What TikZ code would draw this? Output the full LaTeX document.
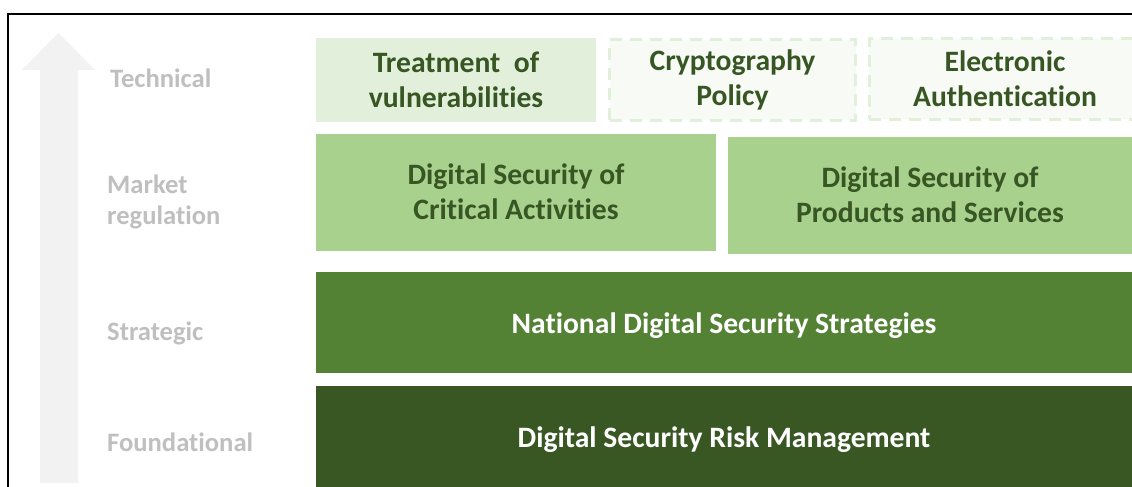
\documentclass[tikz,border=0pt]{standalone}
\usepackage{fontspec}
\setmainfont[Ligatures=NoCommon, RawFeature={-liga;-clig;-dlig;-calt}]{Carlito}
\definecolor{txtdark}{HTML}{375623}
\definecolor{pale}{HTML}{E2EFDA}
\definecolor{paler}{HTML}{F8FBF5}
\definecolor{midgreen}{HTML}{A9D18E}
\definecolor{strong}{HTML}{548235}
\definecolor{deep}{HTML}{385723}
\definecolor{lblgray}{HTML}{BFBFBF}
\definecolor{arrowgray}{HTML}{F2F2F2}
\tikzset{
  box/.style={inner sep=0pt, align=center, font=\fontsize{29.6}{35}\selectfont\bfseries},
  onebox/.style={box, text height=29pt, text depth=6.5pt},
  dbox/.style={box, fill=paler, draw=pale, line width=3pt, dash pattern=on 12pt off 8pt, text=txtdark},
  lbl/.style={anchor=west, inner sep=0pt, align=left, text=lblgray, font=\fontsize{26.6}{31}\selectfont\bfseries},
}
\begin{document}
\begin{tikzpicture}[x=1pt,y=-1pt]
\useasboundingbox (0,0) rectangle (1132,487);
% frame
\draw[line width=2pt] (8,487) -- (8,14) -- (1132,14);
% arrow
\fill[arrowgray] (40,483) -- (40,70) -- (22,70) -- (58.5,33) -- (95,70) -- (78,70) -- (78,483) -- cycle;
% labels
\node[lbl] (ltech) at (110,78) {Technical};
\node[lbl] (lmarket) at (107,201.5) {Market\\regulation};
\node[lbl] (lstrat) at (107,333) {Strategic};
\node[lbl] (lfound) at (107,442) {Foundational};
\begin{scope}
\clip (0,0) rectangle (1132,487);
\node[box, fill=pale, text=txtdark, minimum width=280pt, minimum height=84pt] (treat) at (456,80) {Treatment~ of\\vulnerabilities};
\node[dbox, minimum width=246pt, minimum height=80pt] (crypto) at (732.5,80) {Cryptography\\Policy};
\node[dbox, minimum width=272pt, minimum height=80pt] (elec) at (1005,79) {Electronic\\Authentication};
\node[box, fill=midgreen, text=txtdark, minimum width=400pt, minimum height=117pt] (crit) at (516,192) {Digital Security of\\Critical Activities};
\node[box, fill=midgreen, text=txtdark, minimum width=404pt, minimum height=117pt] (prod) at (930,195) {Digital Security of\\Products and Services};
\node[onebox, fill=strong, text=white, minimum width=816pt, minimum height=101pt] (nat) at (724,322.5) {National Digital Security Strategies};
\node[onebox, fill=deep, text=white, minimum width=816pt, minimum height=101pt] (risk) at (724,436.5) {Digital Security Risk Management};
\end{scope}
\end{tikzpicture}
\end{document}
